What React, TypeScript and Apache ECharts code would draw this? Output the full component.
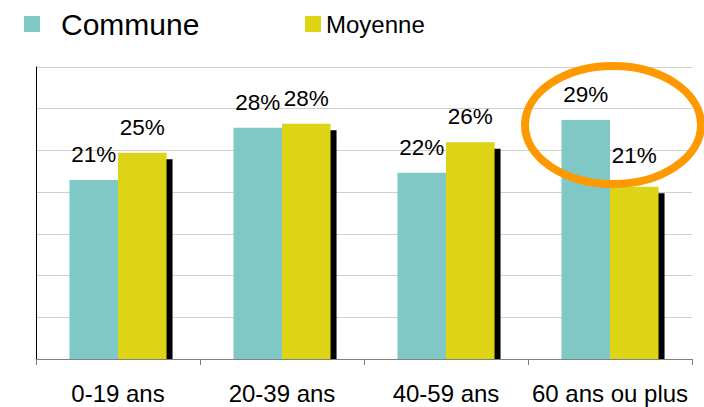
import React, { useEffect, useRef } from "react";
import * as echarts from "echarts";

const categories = ["0-19 ans", "20-39 ans", "40-59 ans", "60 ans ou plus"];
const communeValues = [21.45, 27.72, 22.33, 28.65];
const moyenneValues = [24.73, 28.2, 25.97, 20.65];
const yTicks = [0, 5, 10, 15, 20, 25, 30, 35];

const FONT = "'Liberation Sans', Arial, sans-serif";
const TEAL = "#80C8C5";
const YELLOW = "#DDD415";
const ORANGE = "#FF9900";

export default function App() {
  const ref = useRef<HTMLDivElement>(null);
  useEffect(() => {
    if (!ref.current) return;
    const chart = echarts.init(ref.current, undefined, { renderer: "svg" });
    const barRatio = 0.296;
    chart.setOption({
      animation: false,
      textStyle: { fontFamily: FONT },
      grid: { left: 36, right: 12, top: 67, bottom: 48, containLabel: false },
      legend: [
        {
          data: ["Commune"],
          left: 24,
          top: 9,
          padding: 0,
          itemWidth: 16,
          itemHeight: 16,
          icon: "rect",
          selectedMode: false,
          textStyle: { fontSize: 30, color: "#000", fontFamily: FONT, padding: [3, 0, 0, 16] },
        },
        {
          data: ["Moyenne"],
          left: 305,
          top: 12,
          padding: 0,
          itemWidth: 16,
          itemHeight: 16,
          icon: "rect",
          selectedMode: false,
          textStyle: { fontSize: 24, color: "#000", fontFamily: FONT, padding: [1, 0, 0, 0] },
        },
      ],
      xAxis: {
        type: "category",
        data: categories,
        axisLine: { show: true, lineStyle: { color: "#808080", width: 1 } },
        axisTick: { show: true, length: 6, lineStyle: { color: "#808080" } },
        axisLabel: { fontSize: 24, color: "#000", margin: 22, interval: 0, fontFamily: FONT },
      },
      yAxis: {
        type: "value",
        min: yTicks[0],
        max: yTicks[yTicks.length - 1],
        interval: yTicks[1] - yTicks[0],
        axisLine: { show: true, lineStyle: { color: "#000", width: 1 } },
        axisTick: { show: false },
        axisLabel: { show: false },
        splitLine: { show: true, lineStyle: { color: "#CFCFCF", width: 1 } },
      },
      series: [
        {
          name: "shadow",
          type: "custom",
          z: 1,
          silent: true,
          data: moyenneValues.map((v, i) => [i, v]),
          renderItem: (params: any, api: any) => {
            const idx = api.value(0);
            const val = api.value(1);
            const base = api.coord([idx, 0]);
            const top = api.coord([idx, val]);
            const band = api.size([1, 0])[0];
            const w = band * barRatio;
            const x = base[0] + 6;
            const y = top[1] + 6.5;
            return {
              type: "rect",
              shape: { x, y, width: w, height: base[1] - y },
              style: { fill: "#000" },
            };
          },
        },
        {
          name: "Commune",
          type: "bar",
          z: 2,
          data: communeValues,
          barWidth: barRatio * 100 + "%",
          barGap: "0%",
          itemStyle: { color: TEAL },
          label: {
            show: true,
            position: "top",
            distance: 14,
            fontSize: 22.5,
            color: "#000",
            fontFamily: FONT,
            formatter: (p: any) => Math.round(p.value) + "%",
          },
        },
        {
          name: "Moyenne",
          type: "bar",
          z: 3,
          data: moyenneValues.map((v, i) =>
            i === 3 ? { value: v, label: { distance: 20 } } : v
          ),
          barWidth: barRatio * 100 + "%",
          barGap: "0%",
          itemStyle: { color: YELLOW },
          label: {
            show: true,
            position: "top",
            distance: 14,
            fontSize: 22.5,
            color: "#000",
            fontFamily: FONT,
            formatter: (p: any) => Math.round(p.value) + "%",
          },
        },
      ],
      graphic: [
        {
          type: "ellipse",
          z: 100,
          silent: true,
          shape: { cx: 613, cy: 125, rx: 88, ry: 59 },
          style: { fill: "none", stroke: ORANGE, lineWidth: 8 },
        },
      ],
    });
    return () => chart.dispose();
  }, []);
  return <div ref={ref} style={{ width: 704, height: 407, position: "absolute", left: 0, top: 0 }} />;
}
